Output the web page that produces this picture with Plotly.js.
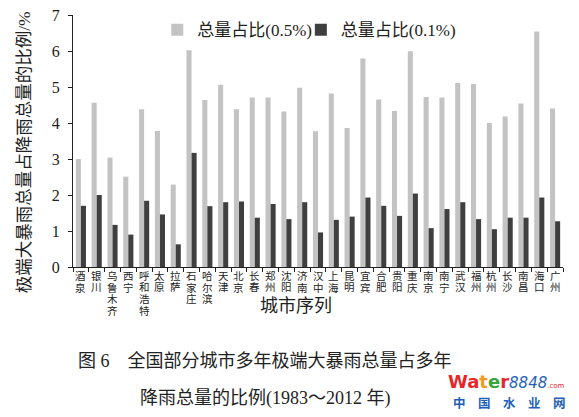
<!DOCTYPE html>
<html>
<head>
<meta charset="utf-8">
<script src="https://cdn.plot.ly/plotly-3.0.1.min.js"></script>
<style>
  html, body { margin: 0; padding: 0; background: #fff; }
  #chart { width: 579px; height: 417px; }
</style>
</head>
<body>
<div id="chart"></div>
<script>
// Cities in the order they appear along the x axis
const cities = ['酒泉', '银川', '乌鲁木齐', '西宁', '呼和浩特', '太原', '拉萨', '石家庄', '哈尔滨', '天津',
  '北京', '长春', '郑州', '沈阳', '济南', '汉中', '上海', '昆明', '宜宾', '合肥',
  '贵阳', '重庆', '南京', '南宁', '武汉', '福州', '杭州', '长沙', '南昌', '海口', '广州'];

// Share of extreme rainstorm total in total precipitation (%), 0.5% threshold
const share05 = [3.00, 4.56, 3.04, 2.51, 4.38, 3.78, 2.29, 6.02, 4.64, 5.06,
  4.38, 4.71, 4.71, 4.32, 4.98, 3.77, 4.82, 3.86, 5.79, 4.65,
  4.33, 5.99, 4.72, 4.71, 5.11, 5.08, 4.00, 4.18, 4.54, 6.54, 4.40];

// Same share, 0.1% threshold
const share01 = [1.70, 2.00, 1.17, 0.90, 1.84, 1.46, 0.63, 3.17, 1.69, 1.80,
  1.82, 1.37, 1.75, 1.33, 1.80, 0.96, 1.31, 1.40, 1.93, 1.70,
  1.42, 2.04, 1.08, 1.61, 1.80, 1.33, 1.05, 1.37, 1.37, 1.93, 1.27];

const seriesNames = ['总量占比(0.5%)', '总量占比(0.1%)'];
const yTicks = [0, 1, 2, 3, 4, 5, 6, 7];

// Latin text in a Times-like face; Chinese glyphs fall back to Noto Sans CJK
const serif = 'Liberation Serif, Noto Sans CJK SC, serif';
const ink = '#222';

// Each series gets its own legend so both entries can be placed independently
const traces = [
  { type: 'bar', x: cities, y: share05, name: seriesNames[0], legend: 'legend',
    marker: { color: '#c3c3c3' } },
  { type: 'bar', x: cities, y: share01, name: seriesNames[1], legend: 'legend2',
    marker: { color: '#3f3f3f' } }
];

// City names run top-to-bottom under each group, one character at a time
const PLOT_H = 254;
const CHAR_PITCH = 11.7;
const cityLabels = [];
cities.forEach(city => {
  city.split('').forEach((ch, i) => {
    cityLabels.push({
      text: ch, xref: 'x', yref: 'paper', x: city, y: 0,
      xanchor: 'center', yanchor: 'middle', yshift: -(9 + CHAR_PITCH * i),
      borderpad: 0, showarrow: false, font: { family: serif, size: 10.5, color: ink }
    });
  });
});

const textNotes = [
  { text: '极端大暴雨总量占降雨总量的比例/%', xref: 'paper', yref: 'paper',
    x: -0.1, y: 0.455, xanchor: 'center', yanchor: 'middle', textangle: -90,
    showarrow: false, font: { family: serif, size: 17.5, color: ink } },
  { text: '城市序列', xref: 'paper', yref: 'paper', x: 0.455, y: -39 / PLOT_H,
    xanchor: 'center', yanchor: 'middle',
    showarrow: false, font: { family: serif, size: 18, color: ink } },
  { text: '图 6　全国部分城市多年极端大暴雨总量占多年', xref: 'paper', yref: 'paper',
    x: 0.392, y: -95 / PLOT_H, xanchor: 'center', yanchor: 'middle',
    showarrow: false, font: { family: serif, size: 18, color: ink } },
  { text: '降雨总量的比例(1983～2012 年)', xref: 'paper', yref: 'paper',
    x: 0.392, y: -133 / PLOT_H, xanchor: 'center', yanchor: 'middle',
    showarrow: false, font: { family: serif, size: 18, color: ink } },
  { text: '<b><span style="color:#e8262a">Wa</span><span style="color:#f29a1f">t</span><span style="color:#3aa33a">e</span><span style="color:#e8262a">r</span></b><i><span style="color:#1f5fb8;font-size:15px">8848</span></i><span style="color:#e8262a;font-size:7px">.com</span>',
    xref: 'paper', yref: 'paper', x: 0.763, y: -115 / PLOT_H, xanchor: 'left', yanchor: 'middle',
    borderpad: 0, showarrow: false, font: { family: 'DejaVu Sans, sans-serif', size: 18 } },
  { text: '<b>中　国　水　业　网</b>', xref: 'paper', yref: 'paper', x: 0.89, y: -137 / PLOT_H,
    xanchor: 'center', yanchor: 'middle', borderpad: 0,
    showarrow: false, font: { family: 'Noto Sans CJK SC, sans-serif', size: 12.5, color: '#1f5fb8' } }
];

const legendBase = {
  orientation: 'h', y: 0.94, xanchor: 'left', yanchor: 'middle',
  font: { family: serif, size: 17, color: ink },
  bgcolor: 'rgba(0,0,0,0)', itemwidth: 30
};

const layout = {
  width: 579, height: 417,
  margin: { l: 73, r: 16, t: 13, b: 150 },
  paper_bgcolor: '#fff', plot_bgcolor: '#fff',
  barmode: 'group', bargap: 0.36, bargroupgap: 0,
  showlegend: true,
  legend: Object.assign({}, legendBase, { x: 0.172 }),
  legend2: Object.assign({}, legendBase, { x: 0.465 }),
  font: { family: serif, color: ink },
  xaxis: {
    type: 'category', showticklabels: false,
    showline: true, linecolor: ink, linewidth: 1,
    ticks: 'outside', ticklen: 4, tickcolor: ink, tickson: 'boundaries',
    showgrid: false, zeroline: false, fixedrange: true
  },
  yaxis: {
    range: [0, 7], tickvals: yTicks,
    tickfont: { family: serif, size: 16, color: ink },
    showline: true, linecolor: ink, linewidth: 1,
    ticks: 'outside', ticklen: 4, tickcolor: ink, ticklabelstandoff: 5,
    showgrid: false, zeroline: false, fixedrange: true
  },
  annotations: cityLabels.concat(textNotes)
};

Plotly.newPlot('chart', traces, layout, { staticPlot: true, displayModeBar: false });
</script>
</body>
</html>
